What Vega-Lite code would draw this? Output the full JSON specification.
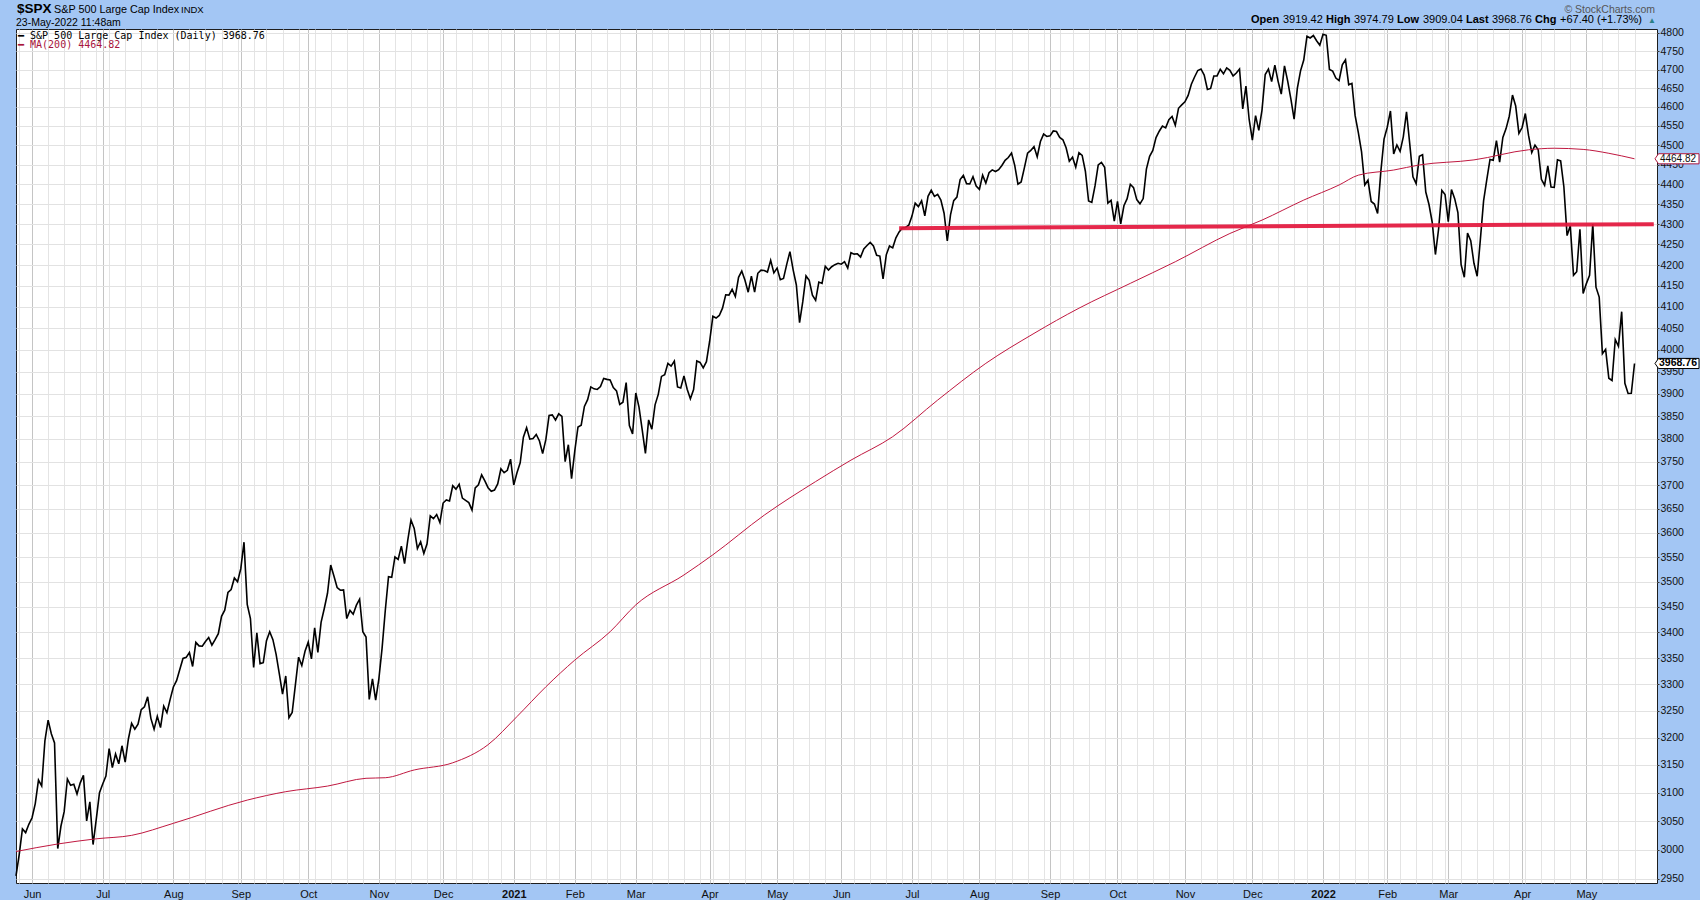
{
"$schema": "https://vega.github.io/schema/vega-lite/v6.json",
"width": 1641, "height": 854,
"autosize": {"type": "none"},
"padding": {"left": 16, "top": 29, "right": 43, "bottom": 17},
"background": "#a3c6f4",
"config": {"view": {"fill": "#ffffff", "stroke": "#1e1e1e", "strokeWidth": 1}, "font": "Liberation Sans"},
"datasets": {
"spx": [
{"date":"2020-05-22","value":2955.45},{"date":"2020-05-26","value":2991.77},{"date":"2020-05-27","value":3036.13},{"date":"2020-05-28","value":3029.73},{"date":"2020-05-29","value":3044.31},
{"date":"2020-06-01","value":3055.73},{"date":"2020-06-02","value":3080.82},{"date":"2020-06-03","value":3122.87},{"date":"2020-06-04","value":3112.35},{"date":"2020-06-05","value":3193.93},{"date":"2020-06-08","value":3232.39},{"date":"2020-06-09","value":3207.18},{"date":"2020-06-10","value":3190.14},{"date":"2020-06-11","value":3002.10},{"date":"2020-06-12","value":3041.31},{"date":"2020-06-15","value":3066.59},{"date":"2020-06-16","value":3124.74},{"date":"2020-06-17","value":3113.49},{"date":"2020-06-18","value":3115.34},{"date":"2020-06-19","value":3097.74},{"date":"2020-06-22","value":3117.86},{"date":"2020-06-23","value":3131.29},{"date":"2020-06-24","value":3050.33},{"date":"2020-06-25","value":3083.76},{"date":"2020-06-26","value":3009.05},{"date":"2020-06-29","value":3053.24},{"date":"2020-06-30","value":3100.29},
{"date":"2020-07-01","value":3115.86},{"date":"2020-07-02","value":3130.01},{"date":"2020-07-06","value":3179.72},{"date":"2020-07-07","value":3145.32},{"date":"2020-07-08","value":3169.94},{"date":"2020-07-09","value":3152.05},{"date":"2020-07-10","value":3185.04},{"date":"2020-07-13","value":3155.22},{"date":"2020-07-14","value":3197.52},{"date":"2020-07-15","value":3226.56},{"date":"2020-07-16","value":3215.57},{"date":"2020-07-17","value":3224.73},{"date":"2020-07-20","value":3251.84},{"date":"2020-07-21","value":3257.30},{"date":"2020-07-22","value":3276.02},{"date":"2020-07-23","value":3235.66},{"date":"2020-07-24","value":3215.63},{"date":"2020-07-27","value":3239.41},{"date":"2020-07-28","value":3218.44},{"date":"2020-07-29","value":3258.44},{"date":"2020-07-30","value":3246.22},{"date":"2020-07-31","value":3271.12},
{"date":"2020-08-03","value":3294.61},{"date":"2020-08-04","value":3306.51},{"date":"2020-08-05","value":3327.77},{"date":"2020-08-06","value":3349.16},{"date":"2020-08-07","value":3351.28},{"date":"2020-08-10","value":3360.47},{"date":"2020-08-11","value":3333.69},{"date":"2020-08-12","value":3380.35},{"date":"2020-08-13","value":3373.43},{"date":"2020-08-14","value":3372.85},{"date":"2020-08-17","value":3381.99},{"date":"2020-08-18","value":3389.78},{"date":"2020-08-19","value":3374.85},{"date":"2020-08-20","value":3385.51},{"date":"2020-08-21","value":3397.16},{"date":"2020-08-24","value":3431.28},{"date":"2020-08-25","value":3443.62},{"date":"2020-08-26","value":3478.73},{"date":"2020-08-27","value":3484.55},{"date":"2020-08-28","value":3508.01},{"date":"2020-08-31","value":3500.31},
{"date":"2020-09-01","value":3526.65},{"date":"2020-09-02","value":3580.84},{"date":"2020-09-03","value":3455.06},{"date":"2020-09-04","value":3426.96},{"date":"2020-09-08","value":3331.84},{"date":"2020-09-09","value":3398.96},{"date":"2020-09-10","value":3339.19},{"date":"2020-09-11","value":3340.97},{"date":"2020-09-14","value":3383.54},{"date":"2020-09-15","value":3401.20},{"date":"2020-09-16","value":3385.49},{"date":"2020-09-17","value":3357.01},{"date":"2020-09-18","value":3319.47},{"date":"2020-09-21","value":3281.06},{"date":"2020-09-22","value":3315.57},{"date":"2020-09-23","value":3236.92},{"date":"2020-09-24","value":3246.59},{"date":"2020-09-25","value":3298.46},{"date":"2020-09-28","value":3351.60},{"date":"2020-09-29","value":3335.47},{"date":"2020-09-30","value":3363.00},
{"date":"2020-10-01","value":3380.80},{"date":"2020-10-02","value":3348.42},{"date":"2020-10-05","value":3408.60},{"date":"2020-10-06","value":3360.97},{"date":"2020-10-07","value":3419.44},{"date":"2020-10-08","value":3446.83},{"date":"2020-10-09","value":3477.14},{"date":"2020-10-12","value":3534.22},{"date":"2020-10-13","value":3511.93},{"date":"2020-10-14","value":3488.67},{"date":"2020-10-15","value":3483.34},{"date":"2020-10-16","value":3483.81},{"date":"2020-10-19","value":3426.92},{"date":"2020-10-20","value":3443.12},{"date":"2020-10-21","value":3435.56},{"date":"2020-10-22","value":3453.49},{"date":"2020-10-23","value":3465.39},{"date":"2020-10-26","value":3400.97},{"date":"2020-10-27","value":3390.68},{"date":"2020-10-28","value":3271.03},{"date":"2020-10-29","value":3310.11},{"date":"2020-10-30","value":3269.96},
{"date":"2020-11-02","value":3310.24},{"date":"2020-11-03","value":3369.16},{"date":"2020-11-04","value":3443.44},{"date":"2020-11-05","value":3510.45},{"date":"2020-11-06","value":3509.44},{"date":"2020-11-09","value":3550.50},{"date":"2020-11-10","value":3545.53},{"date":"2020-11-11","value":3572.66},{"date":"2020-11-12","value":3537.01},{"date":"2020-11-13","value":3585.15},{"date":"2020-11-16","value":3626.91},{"date":"2020-11-17","value":3609.53},{"date":"2020-11-18","value":3567.79},{"date":"2020-11-19","value":3581.87},{"date":"2020-11-20","value":3557.54},{"date":"2020-11-23","value":3577.59},{"date":"2020-11-24","value":3635.41},{"date":"2020-11-25","value":3629.65},{"date":"2020-11-27","value":3638.35},{"date":"2020-11-30","value":3621.63},
{"date":"2020-12-01","value":3662.45},{"date":"2020-12-02","value":3669.01},{"date":"2020-12-03","value":3666.72},{"date":"2020-12-04","value":3699.12},{"date":"2020-12-07","value":3691.96},{"date":"2020-12-08","value":3702.25},{"date":"2020-12-09","value":3672.82},{"date":"2020-12-10","value":3668.10},{"date":"2020-12-11","value":3663.46},{"date":"2020-12-14","value":3647.49},{"date":"2020-12-15","value":3694.62},{"date":"2020-12-16","value":3701.17},{"date":"2020-12-17","value":3722.48},{"date":"2020-12-18","value":3709.41},{"date":"2020-12-21","value":3694.92},{"date":"2020-12-22","value":3687.26},{"date":"2020-12-23","value":3690.01},{"date":"2020-12-24","value":3703.06},{"date":"2020-12-28","value":3735.36},{"date":"2020-12-29","value":3727.04},{"date":"2020-12-30","value":3732.04},{"date":"2020-12-31","value":3756.07},
{"date":"2021-01-04","value":3700.65},{"date":"2021-01-05","value":3726.86},{"date":"2021-01-06","value":3748.14},{"date":"2021-01-07","value":3803.79},{"date":"2021-01-08","value":3824.68},{"date":"2021-01-11","value":3799.61},{"date":"2021-01-12","value":3801.19},{"date":"2021-01-13","value":3809.84},{"date":"2021-01-14","value":3795.54},{"date":"2021-01-15","value":3768.25},{"date":"2021-01-19","value":3798.91},{"date":"2021-01-20","value":3851.85},{"date":"2021-01-21","value":3853.07},{"date":"2021-01-22","value":3841.47},{"date":"2021-01-25","value":3855.36},{"date":"2021-01-26","value":3849.62},{"date":"2021-01-27","value":3750.77},{"date":"2021-01-28","value":3787.38},{"date":"2021-01-29","value":3714.24},
{"date":"2021-02-01","value":3773.86},{"date":"2021-02-02","value":3826.31},{"date":"2021-02-03","value":3830.17},{"date":"2021-02-04","value":3871.74},{"date":"2021-02-05","value":3886.83},{"date":"2021-02-08","value":3915.59},{"date":"2021-02-09","value":3911.23},{"date":"2021-02-10","value":3909.88},{"date":"2021-02-11","value":3916.38},{"date":"2021-02-12","value":3934.83},{"date":"2021-02-16","value":3932.59},{"date":"2021-02-17","value":3931.33},{"date":"2021-02-18","value":3913.97},{"date":"2021-02-19","value":3906.71},{"date":"2021-02-22","value":3876.50},{"date":"2021-02-23","value":3881.37},{"date":"2021-02-24","value":3925.43},{"date":"2021-02-25","value":3829.34},{"date":"2021-02-26","value":3811.15},
{"date":"2021-03-01","value":3901.82},{"date":"2021-03-02","value":3870.29},{"date":"2021-03-03","value":3819.72},{"date":"2021-03-04","value":3768.47},{"date":"2021-03-05","value":3841.94},{"date":"2021-03-08","value":3821.35},{"date":"2021-03-09","value":3875.44},{"date":"2021-03-10","value":3898.81},{"date":"2021-03-11","value":3939.34},{"date":"2021-03-12","value":3943.34},{"date":"2021-03-15","value":3968.94},{"date":"2021-03-16","value":3962.71},{"date":"2021-03-17","value":3974.12},{"date":"2021-03-18","value":3915.46},{"date":"2021-03-19","value":3913.10},{"date":"2021-03-22","value":3940.59},{"date":"2021-03-23","value":3910.52},{"date":"2021-03-24","value":3889.14},{"date":"2021-03-25","value":3909.52},{"date":"2021-03-26","value":3974.54},{"date":"2021-03-29","value":3971.09},{"date":"2021-03-30","value":3958.55},{"date":"2021-03-31","value":3972.89},
{"date":"2021-04-01","value":4019.87},{"date":"2021-04-05","value":4077.91},{"date":"2021-04-06","value":4073.94},{"date":"2021-04-07","value":4079.95},{"date":"2021-04-08","value":4097.17},{"date":"2021-04-09","value":4128.80},{"date":"2021-04-12","value":4127.99},{"date":"2021-04-13","value":4141.59},{"date":"2021-04-14","value":4124.66},{"date":"2021-04-15","value":4170.42},{"date":"2021-04-16","value":4185.47},{"date":"2021-04-19","value":4163.26},{"date":"2021-04-20","value":4134.94},{"date":"2021-04-21","value":4173.42},{"date":"2021-04-22","value":4134.98},{"date":"2021-04-23","value":4180.17},{"date":"2021-04-26","value":4187.62},{"date":"2021-04-27","value":4186.72},{"date":"2021-04-28","value":4183.18},{"date":"2021-04-29","value":4211.47},{"date":"2021-04-30","value":4181.17},
{"date":"2021-05-03","value":4192.66},{"date":"2021-05-04","value":4164.66},{"date":"2021-05-05","value":4167.59},{"date":"2021-05-06","value":4201.62},{"date":"2021-05-07","value":4232.60},{"date":"2021-05-10","value":4188.43},{"date":"2021-05-11","value":4152.10},{"date":"2021-05-12","value":4063.04},{"date":"2021-05-13","value":4112.50},{"date":"2021-05-14","value":4173.85},{"date":"2021-05-17","value":4163.29},{"date":"2021-05-18","value":4127.83},{"date":"2021-05-19","value":4115.68},{"date":"2021-05-20","value":4159.12},{"date":"2021-05-21","value":4155.86},{"date":"2021-05-24","value":4197.05},{"date":"2021-05-25","value":4188.13},{"date":"2021-05-26","value":4195.99},{"date":"2021-05-27","value":4200.88},{"date":"2021-05-28","value":4204.11},
{"date":"2021-06-01","value":4202.04},{"date":"2021-06-02","value":4208.12},{"date":"2021-06-03","value":4192.85},{"date":"2021-06-04","value":4229.89},{"date":"2021-06-07","value":4226.52},{"date":"2021-06-08","value":4227.26},{"date":"2021-06-09","value":4219.55},{"date":"2021-06-10","value":4239.18},{"date":"2021-06-11","value":4247.44},{"date":"2021-06-14","value":4255.15},{"date":"2021-06-15","value":4246.59},{"date":"2021-06-16","value":4223.70},{"date":"2021-06-17","value":4221.86},{"date":"2021-06-18","value":4166.45},{"date":"2021-06-21","value":4224.79},{"date":"2021-06-22","value":4246.44},{"date":"2021-06-23","value":4241.84},{"date":"2021-06-24","value":4266.49},{"date":"2021-06-25","value":4280.70},{"date":"2021-06-28","value":4290.61},{"date":"2021-06-29","value":4291.80},{"date":"2021-06-30","value":4297.50},
{"date":"2021-07-01","value":4319.94},{"date":"2021-07-02","value":4352.34},{"date":"2021-07-06","value":4343.54},{"date":"2021-07-07","value":4358.13},{"date":"2021-07-08","value":4320.82},{"date":"2021-07-09","value":4369.55},{"date":"2021-07-12","value":4384.63},{"date":"2021-07-13","value":4369.21},{"date":"2021-07-14","value":4374.30},{"date":"2021-07-15","value":4360.03},{"date":"2021-07-16","value":4327.16},{"date":"2021-07-19","value":4258.49},{"date":"2021-07-20","value":4323.06},{"date":"2021-07-21","value":4358.69},{"date":"2021-07-22","value":4367.48},{"date":"2021-07-23","value":4411.79},{"date":"2021-07-26","value":4422.30},{"date":"2021-07-27","value":4401.46},{"date":"2021-07-28","value":4400.64},{"date":"2021-07-29","value":4419.15},{"date":"2021-07-30","value":4395.26},
{"date":"2021-08-02","value":4387.16},{"date":"2021-08-03","value":4423.15},{"date":"2021-08-04","value":4402.66},{"date":"2021-08-05","value":4429.10},{"date":"2021-08-06","value":4436.52},{"date":"2021-08-09","value":4432.35},{"date":"2021-08-10","value":4436.75},{"date":"2021-08-11","value":4447.70},{"date":"2021-08-12","value":4460.83},{"date":"2021-08-13","value":4468.00},{"date":"2021-08-16","value":4479.71},{"date":"2021-08-17","value":4448.08},{"date":"2021-08-18","value":4400.27},{"date":"2021-08-19","value":4405.80},{"date":"2021-08-20","value":4441.67},{"date":"2021-08-23","value":4479.53},{"date":"2021-08-24","value":4486.23},{"date":"2021-08-25","value":4496.19},{"date":"2021-08-26","value":4470.00},{"date":"2021-08-27","value":4509.37},{"date":"2021-08-30","value":4528.79},{"date":"2021-08-31","value":4522.68},
{"date":"2021-09-01","value":4524.09},{"date":"2021-09-02","value":4536.95},{"date":"2021-09-03","value":4535.43},{"date":"2021-09-07","value":4520.03},{"date":"2021-09-08","value":4514.07},{"date":"2021-09-09","value":4493.28},{"date":"2021-09-10","value":4458.58},{"date":"2021-09-13","value":4468.73},{"date":"2021-09-14","value":4443.05},{"date":"2021-09-15","value":4480.70},{"date":"2021-09-16","value":4473.75},{"date":"2021-09-17","value":4432.99},{"date":"2021-09-20","value":4357.73},{"date":"2021-09-21","value":4354.19},{"date":"2021-09-22","value":4395.64},{"date":"2021-09-23","value":4448.98},{"date":"2021-09-24","value":4455.48},{"date":"2021-09-27","value":4443.11},{"date":"2021-09-28","value":4352.63},{"date":"2021-09-29","value":4359.46},{"date":"2021-09-30","value":4307.54},
{"date":"2021-10-01","value":4357.04},{"date":"2021-10-04","value":4300.46},{"date":"2021-10-05","value":4345.72},{"date":"2021-10-06","value":4363.55},{"date":"2021-10-07","value":4399.76},{"date":"2021-10-08","value":4391.34},{"date":"2021-10-11","value":4361.19},{"date":"2021-10-12","value":4350.65},{"date":"2021-10-13","value":4363.80},{"date":"2021-10-14","value":4438.26},{"date":"2021-10-15","value":4471.37},{"date":"2021-10-18","value":4486.46},{"date":"2021-10-19","value":4519.63},{"date":"2021-10-20","value":4536.19},{"date":"2021-10-21","value":4549.78},{"date":"2021-10-22","value":4544.90},{"date":"2021-10-25","value":4566.48},{"date":"2021-10-26","value":4574.79},{"date":"2021-10-27","value":4551.68},{"date":"2021-10-28","value":4596.42},{"date":"2021-10-29","value":4605.38},
{"date":"2021-11-01","value":4613.67},{"date":"2021-11-02","value":4630.65},{"date":"2021-11-03","value":4660.57},{"date":"2021-11-04","value":4680.06},{"date":"2021-11-05","value":4697.53},{"date":"2021-11-08","value":4701.70},{"date":"2021-11-09","value":4685.25},{"date":"2021-11-10","value":4646.71},{"date":"2021-11-11","value":4649.27},{"date":"2021-11-12","value":4682.85},{"date":"2021-11-15","value":4682.80},{"date":"2021-11-16","value":4700.90},{"date":"2021-11-17","value":4688.67},{"date":"2021-11-18","value":4704.54},{"date":"2021-11-19","value":4697.96},{"date":"2021-11-22","value":4682.94},{"date":"2021-11-23","value":4690.70},{"date":"2021-11-24","value":4701.46},{"date":"2021-11-26","value":4594.62},{"date":"2021-11-29","value":4655.27},{"date":"2021-11-30","value":4567.00},
{"date":"2021-12-01","value":4513.04},{"date":"2021-12-02","value":4577.10},{"date":"2021-12-03","value":4538.43},{"date":"2021-12-06","value":4591.67},{"date":"2021-12-07","value":4686.75},{"date":"2021-12-08","value":4701.21},{"date":"2021-12-09","value":4667.45},{"date":"2021-12-10","value":4712.02},{"date":"2021-12-13","value":4668.97},{"date":"2021-12-14","value":4634.09},{"date":"2021-12-15","value":4709.85},{"date":"2021-12-16","value":4668.67},{"date":"2021-12-17","value":4620.64},{"date":"2021-12-20","value":4568.02},{"date":"2021-12-21","value":4649.23},{"date":"2021-12-22","value":4696.56},{"date":"2021-12-23","value":4725.79},{"date":"2021-12-27","value":4791.19},{"date":"2021-12-28","value":4786.35},{"date":"2021-12-29","value":4793.06},{"date":"2021-12-30","value":4778.73},{"date":"2021-12-31","value":4766.18},
{"date":"2022-01-03","value":4796.56},{"date":"2022-01-04","value":4793.54},{"date":"2022-01-05","value":4700.58},{"date":"2022-01-06","value":4696.05},{"date":"2022-01-07","value":4677.03},{"date":"2022-01-10","value":4670.29},{"date":"2022-01-11","value":4713.07},{"date":"2022-01-12","value":4726.35},{"date":"2022-01-13","value":4659.03},{"date":"2022-01-14","value":4662.85},{"date":"2022-01-18","value":4577.11},{"date":"2022-01-19","value":4532.76},{"date":"2022-01-20","value":4482.73},{"date":"2022-01-21","value":4397.94},{"date":"2022-01-24","value":4410.13},{"date":"2022-01-25","value":4356.45},{"date":"2022-01-26","value":4349.93},{"date":"2022-01-27","value":4326.51},{"date":"2022-01-28","value":4431.85},{"date":"2022-01-31","value":4515.55},
{"date":"2022-02-01","value":4546.54},{"date":"2022-02-02","value":4589.38},{"date":"2022-02-03","value":4477.44},{"date":"2022-02-04","value":4500.53},{"date":"2022-02-07","value":4483.87},{"date":"2022-02-08","value":4521.54},{"date":"2022-02-09","value":4587.18},{"date":"2022-02-10","value":4504.08},{"date":"2022-02-11","value":4418.64},{"date":"2022-02-14","value":4401.67},{"date":"2022-02-15","value":4471.07},{"date":"2022-02-16","value":4475.01},{"date":"2022-02-17","value":4380.26},{"date":"2022-02-18","value":4348.87},{"date":"2022-02-22","value":4304.76},{"date":"2022-02-23","value":4225.50},{"date":"2022-02-24","value":4288.70},{"date":"2022-02-25","value":4384.65},{"date":"2022-02-28","value":4373.94},
{"date":"2022-03-01","value":4306.26},{"date":"2022-03-02","value":4386.54},{"date":"2022-03-03","value":4363.49},{"date":"2022-03-04","value":4328.87},{"date":"2022-03-07","value":4201.09},{"date":"2022-03-08","value":4170.70},{"date":"2022-03-09","value":4277.88},{"date":"2022-03-10","value":4259.52},{"date":"2022-03-11","value":4204.31},{"date":"2022-03-14","value":4173.11},{"date":"2022-03-15","value":4262.45},{"date":"2022-03-16","value":4357.86},{"date":"2022-03-17","value":4411.67},{"date":"2022-03-18","value":4463.12},{"date":"2022-03-21","value":4461.18},{"date":"2022-03-22","value":4511.61},{"date":"2022-03-23","value":4456.24},{"date":"2022-03-24","value":4520.16},{"date":"2022-03-25","value":4543.06},{"date":"2022-03-28","value":4575.52},{"date":"2022-03-29","value":4631.60},{"date":"2022-03-30","value":4602.45},{"date":"2022-03-31","value":4530.41},
{"date":"2022-04-01","value":4545.86},{"date":"2022-04-04","value":4582.64},{"date":"2022-04-05","value":4525.12},{"date":"2022-04-06","value":4481.15},{"date":"2022-04-07","value":4500.21},{"date":"2022-04-08","value":4488.28},{"date":"2022-04-11","value":4412.53},{"date":"2022-04-12","value":4397.45},{"date":"2022-04-13","value":4446.59},{"date":"2022-04-14","value":4392.59},{"date":"2022-04-18","value":4391.69},{"date":"2022-04-19","value":4462.21},{"date":"2022-04-20","value":4459.45},{"date":"2022-04-21","value":4393.66},{"date":"2022-04-22","value":4271.78},{"date":"2022-04-25","value":4296.12},{"date":"2022-04-26","value":4175.20},{"date":"2022-04-27","value":4183.96},{"date":"2022-04-28","value":4287.50},{"date":"2022-04-29","value":4131.93},
{"date":"2022-05-02","value":4155.38},{"date":"2022-05-03","value":4175.48},{"date":"2022-05-04","value":4300.17},{"date":"2022-05-05","value":4146.87},{"date":"2022-05-06","value":4123.34},{"date":"2022-05-09","value":3991.24},{"date":"2022-05-10","value":4001.05},{"date":"2022-05-11","value":3935.18},{"date":"2022-05-12","value":3930.08},{"date":"2022-05-13","value":4023.89},{"date":"2022-05-16","value":4008.01},{"date":"2022-05-17","value":4088.85},{"date":"2022-05-18","value":3923.68},{"date":"2022-05-19","value":3900.79},{"date":"2022-05-20","value":3901.36},{"date":"2022-05-23","value":3968.76}
],
"ma": [
{"date":"2020-05-22","value":2997},{"date":"2020-06-11","value":3010},{"date":"2020-06-29","value":3019},{"date":"2020-07-15","value":3025},{"date":"2020-08-03","value":3046},{"date":"2020-09-03","value":3087},{"date":"2020-09-22","value":3102},{"date":"2020-10-09","value":3112},{"date":"2020-10-27","value":3126},{"date":"2020-11-04","value":3127},{"date":"2020-11-17","value":3141},{"date":"2020-12-04","value":3154},{"date":"2020-12-21","value":3187},
{"date":"2021-01-05","value":3239},{"date":"2021-01-19","value":3295},{"date":"2021-02-01","value":3346},{"date":"2021-02-17","value":3401},{"date":"2021-03-01","value":3454},{"date":"2021-03-22","value":3514},{"date":"2021-04-05","value":3555},{"date":"2021-04-27","value":3637},{"date":"2021-05-19","value":3708},{"date":"2021-06-04","value":3754},{"date":"2021-06-23","value":3805},{"date":"2021-07-14","value":3886},{"date":"2021-08-04","value":3969},{"date":"2021-08-25","value":4038},{"date":"2021-09-15","value":4097},{"date":"2021-10-07","value":4156},{"date":"2021-10-27","value":4208},{"date":"2021-11-19","value":4277},{"date":"2021-12-06","value":4310},{"date":"2021-12-23","value":4360},
{"date":"2022-01-10","value":4398},{"date":"2022-01-19","value":4423},{"date":"2022-02-03","value":4436},{"date":"2022-02-15","value":4449},{"date":"2022-03-11","value":4462},{"date":"2022-04-05","value":4488},{"date":"2022-04-18","value":4492},{"date":"2022-04-29","value":4489},{"date":"2022-05-11","value":4479},{"date":"2022-05-23","value":4464.82}
],
"trend": [{"date":"2021-06-25","value":4290},{"date":"2022-06-01","value":4300}]
},
"layer": [
{
"encoding": {
 "x": {"field": "date", "type": "ordinal",
  "scale": {"type": "point", "padding": 0, "domain": {"unionWith": ["2022-05-24","2022-05-25","2022-05-26","2022-05-27","2022-05-31","2022-06-01","2022-06-02"]}},
  "axis": {"title": null, "orient": "bottom", "grid": true, "domain": false, "ticks": false, "labelPadding": 5, "labelFontSize": 11, "labelColor": "#111111", "labelOverlap": false, "labelBound": false, "labelAngle": 0,
   "values": ["2020-05-26","2020-06-01","2020-06-08","2020-06-15","2020-06-22","2020-06-29","2020-07-01","2020-07-06","2020-07-13","2020-07-20","2020-07-27","2020-08-03","2020-08-10","2020-08-17","2020-08-24","2020-08-31","2020-09-01","2020-09-08","2020-09-14","2020-09-21","2020-09-28","2020-10-01","2020-10-05","2020-10-12","2020-10-19","2020-10-26","2020-11-02","2020-11-09","2020-11-16","2020-11-23","2020-11-30","2020-12-01","2020-12-07","2020-12-14","2020-12-21","2020-12-28","2021-01-04","2021-01-11","2021-01-19","2021-01-25","2021-02-01","2021-02-08","2021-02-16","2021-02-22","2021-03-01","2021-03-08","2021-03-15","2021-03-22","2021-03-29","2021-04-01","2021-04-05","2021-04-12","2021-04-19","2021-04-26","2021-05-03","2021-05-10","2021-05-17","2021-05-24","2021-06-01","2021-06-07","2021-06-14","2021-06-21","2021-06-28","2021-07-01","2021-07-06","2021-07-12","2021-07-19","2021-07-26","2021-08-02","2021-08-09","2021-08-16","2021-08-23","2021-08-30","2021-09-01","2021-09-07","2021-09-13","2021-09-20","2021-09-27","2021-10-01","2021-10-04","2021-10-11","2021-10-18","2021-10-25","2021-11-01","2021-11-08","2021-11-15","2021-11-22","2021-11-29","2021-12-01","2021-12-06","2021-12-13","2021-12-20","2021-12-27","2022-01-03","2022-01-10","2022-01-18","2022-01-24","2022-01-31","2022-02-01","2022-02-07","2022-02-14","2022-02-22","2022-02-28","2022-03-01","2022-03-07","2022-03-14","2022-03-21","2022-03-28","2022-04-01","2022-04-04","2022-04-11","2022-04-18","2022-04-25","2022-05-02","2022-05-09","2022-05-16","2022-05-23"],
   "labelExpr": "indexof(['2020-06-01','2020-07-01','2020-08-03','2020-09-01','2020-10-01','2020-11-02','2020-12-01','2021-01-04','2021-02-01','2021-03-01','2021-04-01','2021-05-03','2021-06-01','2021-07-01','2021-08-02','2021-09-01','2021-10-01','2021-11-01','2021-12-01','2022-01-03','2022-02-01','2022-03-01','2022-04-01','2022-05-02'], datum.value) < 0 ? '' : (substring(datum.value,5,7) == '01' ? substring(datum.value,0,4) : ['Jan','Feb','Mar','Apr','May','Jun','Jul','Aug','Sep','Oct','Nov','Dec'][toNumber(substring(datum.value,5,7)) - 1])",
   "labelFontWeight": {"condition": {"test": "substring(datum.value,5,7) == '01' && substring(datum.value,8,10) <= '04'", "value": "bold"}, "value": "normal"},
   "gridColor": {"condition": {"test": "indexof(['2020-06-01','2020-07-01','2020-08-03','2020-09-01','2020-10-01','2020-11-02','2020-12-01','2021-01-04','2021-02-01','2021-03-01','2021-04-01','2021-05-03','2021-06-01','2021-07-01','2021-08-02','2021-09-01','2021-10-01','2021-11-01','2021-12-01','2022-01-03','2022-02-01','2022-03-01','2022-04-01','2022-05-02'], datum.value) >= 0", "value": "#c4c4c4"}, "value": "#e4e4e4"},
   "gridWidth": 1}},
 "y": {"field": "value", "type": "quantitative",
  "scale": {"type": "log", "domain": [2943.2, 4811.05], "nice": false, "zero": false},
  "axis": {"title": null, "orient": "right", "grid": true, "domain": false, "tickSize": 2, "tickColor": "#333333", "labelPadding": 1, "labelFontSize": 10.5, "labelColor": "#111111", "format": "d", "labelOverlap": false, "labelBound": false, "gridColor": "#e2e2e2",
   "values": [2950,3000,3050,3100,3150,3200,3250,3300,3350,3400,3450,3500,3550,3600,3650,3700,3750,3800,3850,3900,3950,4000,4050,4100,4150,4200,4250,4300,4350,4400,4450,4500,4550,4600,4650,4700,4750,4800]}}
},
"layer": [
{"data": {"name": "spx"}, "mark": {"type": "line", "color": "#000000", "strokeWidth": 1.6}},
{"data": {"name": "ma"}, "mark": {"type": "line", "color": "#c01840", "strokeWidth": 1, "interpolate": "monotone"}},
{"data": {"name": "trend"}, "mark": {"type": "line", "color": "#e3163c", "strokeWidth": 4, "opacity": 0.92, "strokeCap": "butt"}}
]
},
{"data": {"values": [{}]},
 "mark": {"type": "point", "shape": "M-1,0L-0.84,-0.23L1,-0.23L1,0.23L-0.84,0.23Z", "size": 1936, "filled": true, "fill": "#ffffff", "stroke": "#b0173e", "strokeWidth": 1, "opacity": 1, "xOffset": 20},
 "encoding": {"x": {"datum": "2022-06-02", "type": "ordinal"}, "y": {"datum": 4464.82, "type": "quantitative"}}},
{"data": {"values": [{}]},
 "mark": {"type": "text", "text": "4464.82", "align": "center", "baseline": "middle", "dx": 21, "fontSize": 10, "color": "#111111"},
 "encoding": {"x": {"datum": "2022-06-02", "type": "ordinal"}, "y": {"datum": 4464.82, "type": "quantitative"}}},
{"data": {"values": [{}]},
 "mark": {"type": "point", "shape": "M-1,0L-0.84,-0.23L1,-0.23L1,0.23L-0.84,0.23Z", "size": 1936, "filled": true, "fill": "#ffffff", "stroke": "#000000", "strokeWidth": 1, "opacity": 1, "xOffset": 20},
 "encoding": {"x": {"datum": "2022-06-02", "type": "ordinal"}, "y": {"datum": 3968.76, "type": "quantitative"}}},
{"data": {"values": [{}]},
 "mark": {"type": "text", "text": "3968.76", "align": "center", "baseline": "middle", "dx": 21, "fontSize": 10.5, "fontWeight": "bold", "color": "#000000"},
 "encoding": {"x": {"datum": "2022-06-02", "type": "ordinal"}, "y": {"datum": 3968.76, "type": "quantitative"}}},
{"data": {"values": [{}]},
 "mark": {"type": "text", "text": "$SPX", "align": "left", "baseline": "alphabetic", "dx": 1, "fontSize": 13.5, "fontWeight": "bold", "color": "#000000"},
 "encoding": {"x": {"datum": "2020-05-22", "type": "ordinal"}, "y": {"datum": 4854.2, "type": "quantitative"}}},
{"data": {"values": [{}]},
 "mark": {"type": "text", "text": "S&P 500 Large Cap Index", "align": "left", "baseline": "alphabetic", "dx": 38, "fontSize": 10.8, "color": "#000000"},
 "encoding": {"x": {"datum": "2020-05-22", "type": "ordinal"}, "y": {"datum": 4854.2, "type": "quantitative"}}},
{"data": {"values": [{}]},
 "mark": {"type": "text", "text": "INDX", "align": "left", "baseline": "alphabetic", "dx": 165, "fontSize": 9.5, "color": "#000000"},
 "encoding": {"x": {"datum": "2020-05-22", "type": "ordinal"}, "y": {"datum": 4854.2, "type": "quantitative"}}},
{"data": {"values": [{}]},
 "mark": {"type": "text", "text": "23-May-2022 11:48am", "align": "left", "baseline": "alphabetic", "dx": 0, "fontSize": 10.5, "color": "#000000"},
 "encoding": {"x": {"datum": "2020-05-22", "type": "ordinal"}, "y": {"datum": 4818.0, "type": "quantitative"}}},
{"data": {"values": [{}]},
 "mark": {"type": "text", "text": "━ S&P 500 Large Cap Index (Daily) 3968.76", "align": "left", "baseline": "alphabetic", "dx": 2, "font": "DejaVu Sans Mono", "fontSize": 10, "color": "#000000"},
 "encoding": {"x": {"datum": "2020-05-22", "type": "ordinal"}, "y": {"datum": 4784.3, "type": "quantitative"}}},
{"data": {"values": [{}]},
 "mark": {"type": "text", "text": "━ MA(200) 4464.82", "align": "left", "baseline": "alphabetic", "dx": 2, "font": "DejaVu Sans Mono", "fontSize": 10, "color": "#a8143c"},
 "encoding": {"x": {"datum": "2020-05-22", "type": "ordinal"}, "y": {"datum": 4757.4, "type": "quantitative"}}},
{"data": {"values": [{}]},
 "mark": {"type": "text", "text": "© StockCharts.com", "align": "right", "baseline": "alphabetic", "dx": -2, "fontSize": 10.5, "color": "#555555"},
 "encoding": {"x": {"datum": "2022-06-02", "type": "ordinal"}, "y": {"datum": 4855.6, "type": "quantitative"}}},
{"data": {"values": [{}]},
 "mark": {"type": "text", "text": "Open", "align": "left", "baseline": "alphabetic", "dx": -406, "fontSize": 11, "fontWeight": "bold", "color": "#000000"},
 "encoding": {"x": {"datum": "2022-06-02", "type": "ordinal"}, "y": {"datum": 4828.5, "type": "quantitative"}}},
{"data": {"values": [{}]},
 "mark": {"type": "text", "text": "3919.42", "align": "left", "baseline": "alphabetic", "dx": -374, "fontSize": 11, "color": "#000000"},
 "encoding": {"x": {"datum": "2022-06-02", "type": "ordinal"}, "y": {"datum": 4828.5, "type": "quantitative"}}},
{"data": {"values": [{}]},
 "mark": {"type": "text", "text": "High", "align": "left", "baseline": "alphabetic", "dx": -331, "fontSize": 11, "fontWeight": "bold", "color": "#000000"},
 "encoding": {"x": {"datum": "2022-06-02", "type": "ordinal"}, "y": {"datum": 4828.5, "type": "quantitative"}}},
{"data": {"values": [{}]},
 "mark": {"type": "text", "text": "3974.79", "align": "left", "baseline": "alphabetic", "dx": -303, "fontSize": 11, "color": "#000000"},
 "encoding": {"x": {"datum": "2022-06-02", "type": "ordinal"}, "y": {"datum": 4828.5, "type": "quantitative"}}},
{"data": {"values": [{}]},
 "mark": {"type": "text", "text": "Low", "align": "left", "baseline": "alphabetic", "dx": -260, "fontSize": 11, "fontWeight": "bold", "color": "#000000"},
 "encoding": {"x": {"datum": "2022-06-02", "type": "ordinal"}, "y": {"datum": 4828.5, "type": "quantitative"}}},
{"data": {"values": [{}]},
 "mark": {"type": "text", "text": "3909.04", "align": "left", "baseline": "alphabetic", "dx": -234, "fontSize": 11, "color": "#000000"},
 "encoding": {"x": {"datum": "2022-06-02", "type": "ordinal"}, "y": {"datum": 4828.5, "type": "quantitative"}}},
{"data": {"values": [{}]},
 "mark": {"type": "text", "text": "Last", "align": "left", "baseline": "alphabetic", "dx": -191, "fontSize": 11, "fontWeight": "bold", "color": "#000000"},
 "encoding": {"x": {"datum": "2022-06-02", "type": "ordinal"}, "y": {"datum": 4828.5, "type": "quantitative"}}},
{"data": {"values": [{}]},
 "mark": {"type": "text", "text": "3968.76", "align": "left", "baseline": "alphabetic", "dx": -165, "fontSize": 11, "color": "#000000"},
 "encoding": {"x": {"datum": "2022-06-02", "type": "ordinal"}, "y": {"datum": 4828.5, "type": "quantitative"}}},
{"data": {"values": [{}]},
 "mark": {"type": "text", "text": "Chg", "align": "left", "baseline": "alphabetic", "dx": -122, "fontSize": 11, "fontWeight": "bold", "color": "#000000"},
 "encoding": {"x": {"datum": "2022-06-02", "type": "ordinal"}, "y": {"datum": 4828.5, "type": "quantitative"}}},
{"data": {"values": [{}]},
 "mark": {"type": "text", "text": "+67.40 (+1.73%)", "align": "left", "baseline": "alphabetic", "dx": -97, "fontSize": 11, "color": "#000000"},
 "encoding": {"x": {"datum": "2022-06-02", "type": "ordinal"}, "y": {"datum": 4828.5, "type": "quantitative"}}},
{"data": {"values": [{}]},
 "mark": {"type": "text", "text": "▲", "align": "left", "baseline": "alphabetic", "dx": -9, "fontSize": 8, "color": "#2a7f86"},
 "encoding": {"x": {"datum": "2022-06-02", "type": "ordinal"}, "y": {"datum": 4828.5, "type": "quantitative"}}}
]
}
